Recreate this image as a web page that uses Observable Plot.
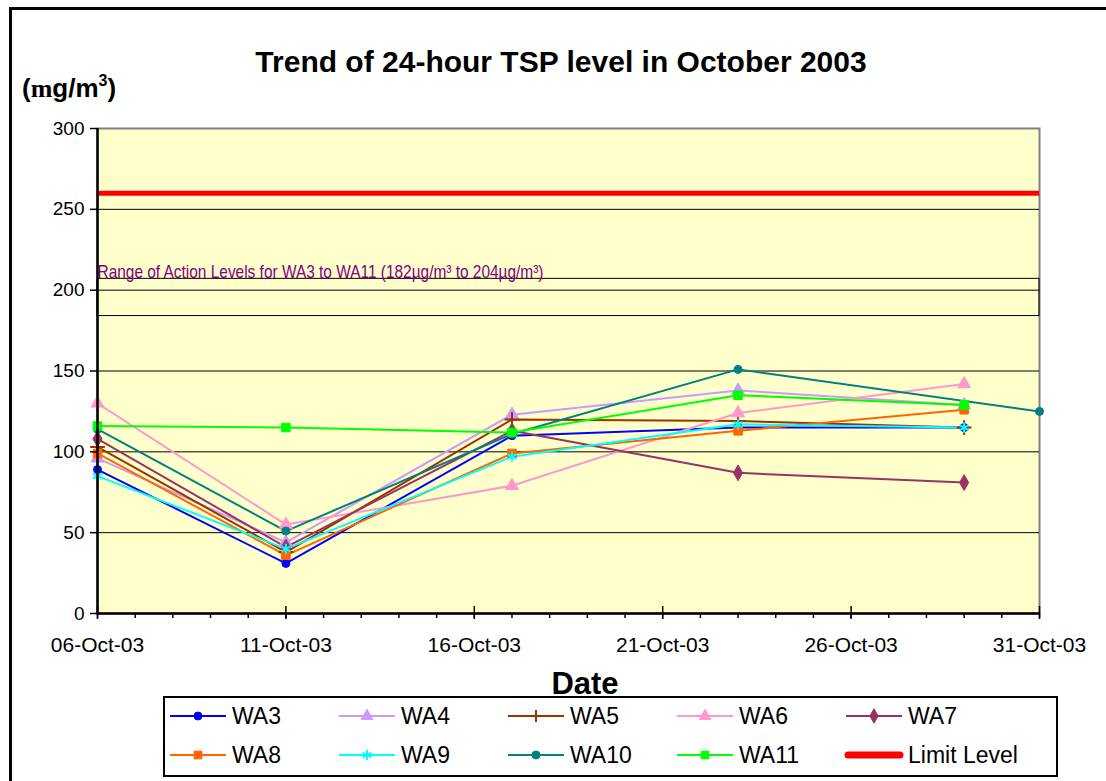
<!DOCTYPE html>
<html>
<head>
<meta charset="utf-8">
<script src="https://cdn.jsdelivr.net/npm/d3@7"></script>
<script src="https://cdn.jsdelivr.net/npm/@observablehq/plot@0.6"></script>
<style>
  html, body { margin: 0; padding: 0; background: #fff; }
  #page { position: relative; width: 1106px; height: 781px; overflow: hidden; background: #fff; font-family: "Liberation Sans", Arial, sans-serif; color: #000; }
  #frame { position: absolute; left: 9px; top: 7px; width: 1200px; height: 900px; border-left: 3px solid #000; border-top: 3px solid #000; }
  #chart { position: absolute; left: 0; top: 0; }
  .lbl { position: absolute; white-space: nowrap; line-height: 1; }
</style>
</head>
<body>
<div id="page">
  <div id="frame"></div>
  <div id="chart"></div>
  <div class="lbl" id="title" style="left:561px; top:47px; transform:translateX(-50%); font-weight:bold; font-size:30px;">Trend of 24-hour TSP level in October 2003</div>
  <div class="lbl" id="yunit" style="left:22px; top:75px; font-weight:bold; font-size:26px;">(<span style="font-family:'Liberation Serif',serif;">m</span>g/m<sup style="font-size:16px; vertical-align:11px; line-height:0;">3</sup>)</div>
  <div class="lbl" id="xlabel" style="left:585px; top:668px; transform:translateX(-50%); font-weight:bold; font-size:31px;">Date</div>
  <div id="legend" style="position:absolute; left:163px; top:696px;"></div>
</div>
<script>
// ---- data ----
const dates = ["2003-10-06", "2003-10-11", "2003-10-17", "2003-10-23", "2003-10-29"];
const datesWA10 = ["2003-10-06", "2003-10-11", "2003-10-17", "2003-10-23", "2003-10-31"];
const seriesNames = ["WA3", "WA4", "WA5", "WA6", "WA7", "WA8", "WA9", "WA10", "WA11"];
const WA3 = [89, 31, 110, 115, 115];
const WA4 = [96, 44, 123, 138, 129];
const WA5 = [103, 38, 120, 119, 115];
const WA6 = [130, 55, 79, 124, 142];
const WA7 = [108, 41, 113, 87, 81];
const WA8 = [99, 36, 99, 113, 126];
const WA9 = [85, 40, 97, 117, 115];
const WA10 = [114, 51, 111, 151, 125];
const WA11 = [116, 115, 112, 135, 129];
const limitLevel = 260;
const limitLabel = "Limit Level";
const actionBox = [184, 207];
const actionLabel = "Range of Action Levels for WA3 to WA11 (182µg/m³ to 204µg/m³)";
const xDomain = ["2003-10-06", "2003-10-31"];
const xMajorTicks = ["2003-10-06", "2003-10-11", "2003-10-16", "2003-10-21", "2003-10-26", "2003-10-31"];
const yTicks = [0, 50, 100, 150, 200, 250, 300];
const gridValues = [50, 100, 150, 200, 250];

const seriesColors = ["#0000FF", "#CC99FF", "#993300", "#FF99CC", "#993366", "#FF6600", "#00FFFF", "#008080", "#00FF00"];
const seriesSymbols = ["circle", "triangle", "plus", "triangle", "diamond", "square", "asterisk", "circle", "square"];
const limitColor = "#FF0000";

// ---- build table ----
const parse = s => new Date(s + "T00:00:00Z");
const valuesBy = {WA3, WA4, WA5, WA6, WA7, WA8, WA9, WA10, WA11};
const rows = [];
seriesNames.forEach(name => {
  const ds = name === "WA10" ? datesWA10 : dates;
  valuesBy[name].forEach((v, i) => rows.push({series: name, date: parse(ds[i]), value: v}));
});
const x0 = parse(xDomain[0]), x1 = parse(xDomain[1]);
const dailyTicks = d3.utcDay.range(x0, d3.utcDay.offset(x1, 1));
const majorTicks = xMajorTicks.map(parse);
const fmt = d3.utcFormat("%d-%b-%y");

const strokeOnly = s => s === "plus" || s === "asterisk";

const dotMarks = seriesNames.map((name, i) => Plot.dot(rows.filter(r => r.series === name), {
  x: "date", y: "value",
  symbol: seriesSymbols[i],
  r: seriesSymbols[i] === "circle" ? 4 : 4.8,
  stroke: seriesColors[i],
  strokeWidth: strokeOnly(seriesSymbols[i]) ? 2 : 1,
  fill: strokeOnly(seriesSymbols[i]) ? "none" : seriesColors[i]
}));

const chart = Plot.plot({
  width: 1106,
  height: 700,
  marginLeft: 97,
  marginRight: 67,
  marginTop: 128,
  marginBottom: 87,
  style: {background: "transparent", fontFamily: "'Liberation Sans', Arial, sans-serif", color: "#000", overflow: "visible"},
  x: {type: "utc", domain: [x0, x1], axis: null, label: null},
  y: {domain: [0, 300], axis: null, label: null},
  color: {domain: seriesNames, range: seriesColors},
  marks: [
    Plot.frame({fill: "#FFFFCC", stroke: "#808080", strokeWidth: 2}),
    Plot.ruleY(gridValues, {stroke: "#000", strokeWidth: 1}),
    Plot.rect([actionBox], {x1: () => x0, x2: () => x1, y1: d => d[0], y2: d => d[1], fill: "none", stroke: "#000", strokeWidth: 1}),
    Plot.text([actionLabel], {x: () => x0, y: () => actionBox[1], text: d => d, textAnchor: "start", lineAnchor: "bottom", dy: -1, fill: "#800080", fontSize: 19, className: "action-label"}),
    Plot.ruleY([limitLevel], {stroke: limitColor, strokeWidth: 5}),
    Plot.line(rows, {x: "date", y: "value", z: "series", stroke: "series", strokeWidth: 2}),
    ...dotMarks,
    Plot.axisY({ticks: yTicks, anchor: "left", label: null, tickSize: 7, tickPadding: 6, fontSize: 19, stroke: "#000", strokeWidth: 1.5}),
    Plot.axisX(dailyTicks, {anchor: "bottom", label: null, tickSize: 5, tickFormat: () => "", stroke: "#000", strokeWidth: 1.5}),
    Plot.axisX(majorTicks, {anchor: "bottom", label: null, tickSize: 13, dy: -7, tickFormat: () => "", stroke: "#000", strokeWidth: 1.5}),
    Plot.axisX(majorTicks, {anchor: "bottom", label: null, tickSize: 0, tickPadding: 24, tickFormat: fmt, fontSize: 21}),
    Plot.ruleX([x0], {stroke: "#000", strokeWidth: 2.5}),
    Plot.ruleY([0], {stroke: "#000", strokeWidth: 2.5})
  ]
});
// narrow the purple label like the reference's condensed type
d3.select(chart).selectAll(".action-label text")
  .attr("textLength", 446).attr("lengthAdjust", "spacingAndGlyphs");
document.getElementById("chart").appendChild(chart);

// ---- legend ----
const legendItems = seriesNames.map((n, i) => ({name: n, color: seriesColors[i], symbol: seriesSymbols[i]}))
  .concat([{name: limitLabel, color: limitColor, symbol: null}]);
const lw = 894, lh = 81;
const svg = d3.create("svg").attr("width", lw + 2).attr("height", lh + 2)
  .style("font-family", "'Liberation Sans', Arial, sans-serif");
svg.append("rect").attr("x", 1).attr("y", 1).attr("width", lw - 1).attr("height", lh - 2)
  .attr("fill", "#fff").attr("stroke", "#000").attr("stroke-width", 2);
const symMap = {circle: d3.symbolCircle, triangle: d3.symbolTriangle, plus: d3.symbolCross, diamond: d3.symbolDiamond, square: d3.symbolSquare};
legendItems.forEach((it, i) => {
  const col = i % 5, row = Math.floor(i / 5);
  const gx = 7 + col * 169, gy = row === 0 ? 20 : 59;
  const g = svg.append("g").attr("transform", `translate(${gx},${gy})`);
  g.append("line").attr("x1", it.symbol ? 0 : 2).attr("x2", it.symbol ? 56 : 54).attr("stroke", it.color).attr("stroke-width", it.symbol ? 2 : 7)
    .attr("stroke-linecap", it.symbol ? "butt" : "round");
  if (it.symbol === "asterisk") {
    const a = g.append("g").attr("transform", "translate(28,0)").attr("stroke", it.color).attr("stroke-width", 2);
    [0, 60, 120].forEach(ang => a.append("line").attr("y1", -5).attr("y2", 5).attr("transform", `rotate(${ang})`));
  } else if (it.symbol === "plus") {
    const a = g.append("g").attr("transform", "translate(28,0)").attr("stroke", it.color).attr("stroke-width", 2);
    a.append("line").attr("y1", -6).attr("y2", 6);
    a.append("line").attr("x1", -6).attr("x2", 6);
  } else if (it.symbol) {
    g.append("path").attr("transform", "translate(28,0)")
      .attr("d", d3.symbol(symMap[it.symbol], it.symbol === "circle" ? 50 : 60)())
      .attr("fill", it.color).attr("stroke", it.color);
  }
  g.append("text").attr("x", 62).attr("y", 0).attr("dy", "0.36em")
    .attr("font-size", 23).attr("fill", "#000").text(it.name);
});
document.getElementById("legend").appendChild(svg.node());
</script>
</body>
</html>
